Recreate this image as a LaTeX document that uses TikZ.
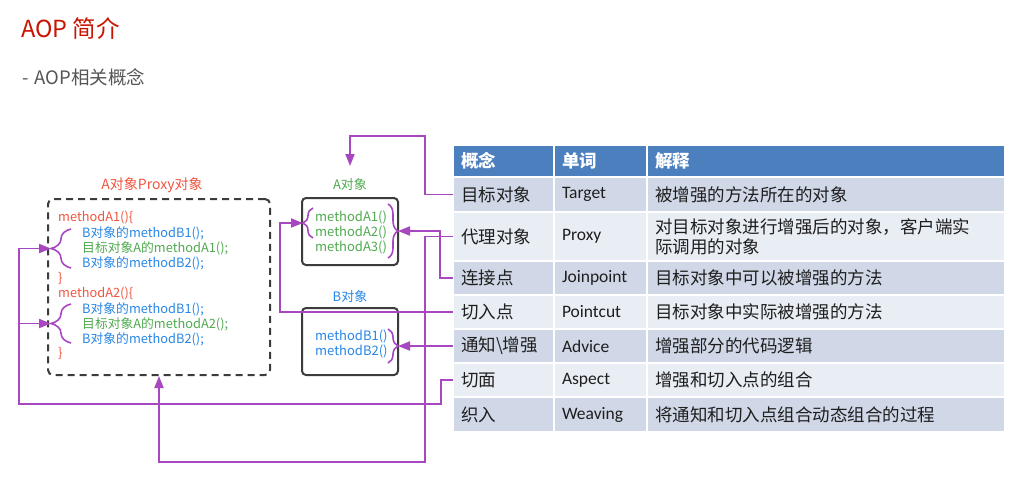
\documentclass[tikz,border=0pt]{standalone}
\usepackage{fontspec}
\setmainfont{Noto Sans CJK SC}
\newfontfamily\calfont{Carlito}
\usetikzlibrary{arrows.meta,decorations.pathreplacing}

\definecolor{titred}{RGB}{200,20,0}
\definecolor{subgrey}{RGB}{85,85,85}
\definecolor{codered}{RGB}{240,85,65}
\definecolor{codeblue}{RGB}{40,135,230}
\definecolor{codegreen}{RGB}{80,170,80}
\definecolor{aopPurple}{RGB}{168,72,192}
\definecolor{boxgrey}{RGB}{60,60,60}
\definecolor{tabhead}{RGB}{76,127,190}
\definecolor{rowD}{RGB}{208,216,232}
\definecolor{rowL}{RGB}{233,237,244}
\definecolor{tabtext}{RGB}{30,30,30}

\newcommand{\codefnt}{\fontsize{12.8}{15}\selectfont}
\newcommand{\tabfnt}{\fontsize{17.5}{20}\selectfont}
\newcommand{\wordfnt}{\calfont\fontsize{17.5}{20}\selectfont}

\begin{document}
\begin{tikzpicture}[x=1pt,y=-1pt,
  conn/.style={draw=aopPurple, line width=1.8pt},
  arr/.style={conn, -{Triangle[length=12pt,width=9pt]}},
  pbrace/.style={draw=aopPurple, line width=1.6pt, decorate, decoration={brace, amplitude=#1}},
  code/.style={anchor=west, inner sep=0pt, font=\codefnt},
  objbox/.style={draw=boxgrey, line width=2pt, rounded corners=4pt, minimum width=96pt, minimum height=67pt, inner sep=0pt},
  tcell/.style={anchor=north west, draw=white, line width=1.5pt, outer sep=0pt, inner xsep=8pt, inner ysep=0pt, align=left, text=tabtext, font=\tabfnt},
  c1/.style={tcell, text width=85pt},
  c2/.style={tcell, text width=77pt, font=\wordfnt},
  c3/.style={tcell, text width=342pt},
  hd/.style={fill=tabhead, text=white, font=\tabfnt\bfseries, minimum height=32pt}
]
\useasboundingbox (0,0) rectangle (1024,480);
\fill[white] (0,0) rectangle (1024,480);

% titles
\node[anchor=west, inner sep=0pt, text=titred, font=\fontsize{23.5}{23.5}\selectfont] (title) at (21,29) {AOP 简介};
\node[anchor=west, inner sep=0pt, text=subgrey, font=\fontsize{18.5}{18.5}\selectfont] (subtitle) at (22,77) {-\hspace{6pt}AOP相关概念};

% proxy box
\node[draw=boxgrey, line width=2pt, dash pattern=on 7pt off 5pt, rounded corners=5pt, minimum width=222pt, minimum height=176pt, inner sep=0pt] (proxy) at (159,287) {};
\node[inner sep=0pt, text=codered, font=\fontsize{14}{14}\selectfont] (proxylbl) at (152,185) {A对象Proxy对象};
\node[code, text=codered] (pa1) at (58,218) {methodA1()\{};
\node[code, text=codeblue] (pa2) at (82,233) {B对象的methodB1();};
\node[code, text=codegreen] (pa3) at (82,248) {目标对象A的methodA1();};
\node[code, text=codeblue] (pa4) at (82,263) {B对象的methodB2();};
\node[code, text=codered] (pa5) at (58,279) {\}};
\node[code, text=codered] (pb1) at (58,294) {methodA2()\{};
\node[code, text=codeblue] (pb2) at (82,309) {B对象的methodB1();};
\node[code, text=codegreen] (pb3) at (82,324) {目标对象A的methodA2();};
\node[code, text=codeblue] (pb4) at (82,339) {B对象的methodB2();};
\node[code, text=codered] (pb5) at (58,354) {\}};
\draw[pbrace=20pt] (71,268) -- (71,229);
\draw[pbrace=20pt] (71,343) -- (71,304);
\coordinate (ptipA) at (51,248.5);
\coordinate (ptipB) at (51,323.5);

% A object
\node[objbox] (aobj) at (350,231.5) {};
\node[inner sep=0pt, text=codegreen, font=\fontsize{13}{13}\selectfont] (albl) at (350,185) {A对象};
\node[code, text=codegreen, font=\fontsize{13}{15}\selectfont] (am1) at (315,217) {methodA1()};
\node[code, text=codegreen, font=\fontsize{13}{15}\selectfont] (am2) at (315,232) {methodA2()};
\node[code, text=codegreen, font=\fontsize{13}{15}\selectfont] (am3) at (315,247) {methodA3()};
\draw[pbrace=10pt] (313,238) -- (313,208);
\draw[pbrace=10pt] (388,204) -- (388,258);
\coordinate (aleft) at (303,223);
\coordinate (aright) at (398,231);
\coordinate (atop) at (350,166);

% B object
\node[objbox] (bobj) at (350,341.5) {};
\node[inner sep=0pt, text=codeblue, font=\fontsize{13}{13}\selectfont] (blbl) at (350,297) {B对象};
\node[code, text=codeblue, font=\fontsize{13}{15}\selectfont] (bm1) at (315,336) {methodB1()};
\node[code, text=codeblue, font=\fontsize{13}{15}\selectfont] (bm2) at (315,351) {methodB2()};
\draw[pbrace=10pt] (388,329) -- (388,363);
\coordinate (bright) at (398,346);

% table
\node[c1, hd] (h1) at (453,145) {概念};
\node[c2, hd, font=\tabfnt\bfseries] (h2) at (554,145) {单词};
\node[c3, hd] (h3) at (647,145) {解释};

\node[c1, fill=rowD, minimum height=35pt] (t1a) at (453,177) {目标对象};
\node[c2, fill=rowD, minimum height=35pt] (t1b) at (554,177) {Target};
\node[c3, fill=rowD, minimum height=35pt] (t1c) at (647,177) {被增强的方法所在的对象};

\node[c1, fill=rowL, minimum height=49pt] (t2a) at (453,212) {代理对象};
\node[c2, fill=rowL, minimum height=49pt] (t2b) at (554,212) {Proxy};
\node[c3, fill=rowL, minimum height=49pt] (t2c) at (647,212) {对目标对象进行增强后的对象，客户端实\\际调用的对象};

\node[c1, fill=rowD, minimum height=34pt] (t3a) at (453,261) {连接点};
\node[c2, fill=rowD, minimum height=34pt] (t3b) at (554,261) {Joinpoint};
\node[c3, fill=rowD, minimum height=34pt] (t3c) at (647,261) {目标对象中可以被增强的方法};

\node[c1, fill=rowL, minimum height=34pt] (t4a) at (453,295) {切入点};
\node[c2, fill=rowL, minimum height=34pt] (t4b) at (554,295) {Pointcut};
\node[c3, fill=rowL, minimum height=34pt] (t4c) at (647,295) {目标对象中实际被增强的方法};

\node[c1, fill=rowD, minimum height=34pt] (t5a) at (453,329) {通知\textbackslash 增强};
\node[c2, fill=rowD, minimum height=34pt] (t5b) at (554,329) {Advice};
\node[c3, fill=rowD, minimum height=34pt] (t5c) at (647,329) {增强部分的代码逻辑};

\node[c1, fill=rowL, minimum height=34pt] (t6a) at (453,363) {切面};
\node[c2, fill=rowL, minimum height=34pt] (t6b) at (554,363) {Aspect};
\node[c3, fill=rowL, minimum height=34pt] (t6c) at (647,363) {增强和切入点的组合};

\node[c1, fill=rowD, minimum height=35pt] (t7a) at (453,397) {织入};
\node[c2, fill=rowD, minimum height=35pt] (t7b) at (554,397) {Weaving};
\node[c3, fill=rowD, minimum height=35pt] (t7c) at (647,397) {将通知和切入点组合动态组合的过程};

% connectors
\draw[arr] (t1a.west) -| (425,136) -| (atop);
\draw[arr] (t2a.west) -| (425,462) -| (proxy.south);
\draw[arr] (t3a.west) -| (440,231) -- (aright);
\draw[arr] (t4a.west) -| (280,223) -- (aleft);
\draw[arr] (t5a.west) -- (bright);
\coordinate (split) at (19,323.5);
\draw[arr] (t6a.west) -| (441,404) -| (19,248.5) -- (ptipA);
\draw[arr] (split) -- (ptipB);
\end{tikzpicture}
\end{document}
